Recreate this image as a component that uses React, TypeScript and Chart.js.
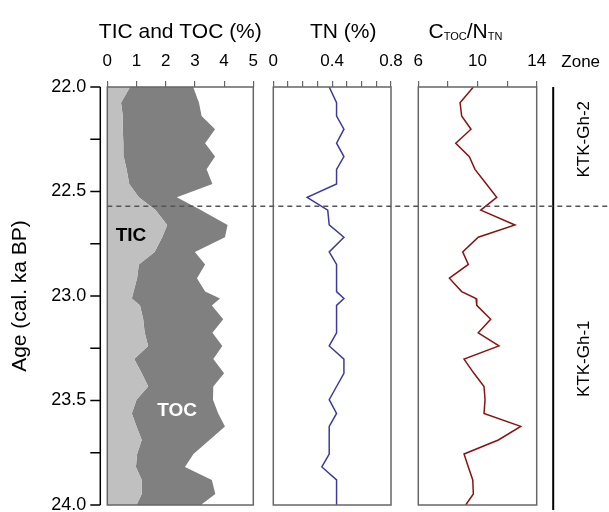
import React, { useEffect, useRef } from 'react';
import { Chart, registerables } from 'chart.js';

Chart.register(...registerables);

const FONT = "'Liberation Sans', Arial, Helvetica, sans-serif";

// ---- data (ages in cal. ka BP) ----
const ages = [22.0, 22.075, 22.139, 22.202, 22.269, 22.333, 22.394, 22.464, 22.528, 22.589, 22.66, 22.719, 22.789, 22.849, 22.915, 22.979, 23.012, 23.045, 23.111, 23.176, 23.239, 23.302, 23.37, 23.433, 23.496, 23.562, 23.624, 23.689, 23.756, 23.818, 23.88, 23.947, 24.0];
const ticValues = [0.78, 0.47, 0.53, 0.53, 0.55, 0.56, 0.66, 0.75, 1.08, 1.65, 2.05, 1.88, 1.62, 1.08, 1.02, 0.9, 0.84, 1.12, 1.23, 1.28, 1.4, 0.92, 1.18, 1.4, 1.0, 0.84, 1.0, 1.18, 1.02, 0.98, 1.18, 1.18, 1.0];
const tocValues = [2.16, 2.67, 2.7, 3.16, 2.8, 3.13, 2.74, 2.85, 1.3, 1.55, 2.07, 2.15, 1.38, 2.27, 2.05, 2.45, 3.02, 2.46, 2.74, 2.32, 2.54, 2.71, 2.82, 2.23, 2.62, 2.96, 3.03, 2.32, 1.93, 1.68, 2.4, 2.52, 2.2];
const tnValues = [0.38, 0.43, 0.43, 0.48, 0.43, 0.48, 0.43, 0.43, 0.23, 0.37, 0.38, 0.48, 0.38, 0.43, 0.43, 0.43, 0.48, 0.43, 0.43, 0.43, 0.38, 0.48, 0.48, 0.43, 0.38, 0.43, 0.38, 0.38, 0.38, 0.33, 0.43, 0.43, 0.43];
const cnValues = [9.72, 8.82, 8.93, 9.56, 8.53, 9.45, 9.83, 10.6, 11.3, 10.22, 12.53, 10.05, 9.0, 9.38, 8.1, 8.93, 9.9, 9.95, 10.89, 10.05, 11.45, 9.09, 9.76, 10.44, 10.51, 10.44, 12.92, 11.41, 9.09, 9.38, 9.68, 9.72, 9.2];

const zoneBoundaryAge = 22.57;
const zoneNames = ['KTK-Gh-2', 'KTK-Gh-1'];
const zoneLabelAges = [22.25, 23.3];
const ticLabelPos = { x: 0.81, y: 22.713 };
const tocLabelPos = { x: 2.39, y: 23.55 };

const ageMin = 22;
const ageMax = 24;

const W = 609;
const H = 520;
const TITLE_SIZE = 21;
const TICK_SIZE = 17;
const YTICK_SIZE = 18;

const totalValues = ticValues.map((v, i) => v + tocValues[i]);

const pts = (vals: number[]) => vals.map((v, i) => ({ x: v, y: ages[i] }));

function yScale(show: boolean) {
  return {
    type: 'linear',
    min: ageMin,
    max: ageMax,
    reverse: true,
    display: show,
    ticks: {
      stepSize: 0.25,
      autoSkip: false,
      color: '#000',
      font: { family: FONT, size: YTICK_SIZE },
      padding: 0,
      callback: (v: any) => {
        const n = Number(v);
        return Math.abs(n * 2 - Math.round(n * 2)) < 1e-6 ? n.toFixed(1) : '';
      },
    },
    grid: { display: false, drawTicks: true, tickLength: 21 },
    border: { display: false },
    title: {
      display: show,
      text: 'Age (cal. ka BP)',
      color: '#000',
      font: { family: FONT, size: TITLE_SIZE },
      padding: { top: 8, bottom: 0 },
    },
    afterFit: (s: any) => {
      if (show) s.width = 107.3;
    },
  };
}

function xScale(min: number, max: number, step: number, cb: (v: number) => string) {
  return {
    type: 'linear',
    position: 'top',
    min,
    max,
    ticks: {
      stepSize: step,
      autoSkip: false,
      maxRotation: 0,
      color: '#000',
      font: { family: FONT, size: TICK_SIZE },
      padding: 9,
      callback: (v: any) => cb(Number(v)),
    },
    grid: { display: true, drawOnChartArea: false, drawTicks: true, tickLength: 6, color: '#666', lineWidth: 1.2 },
    border: { display: false },
    afterFit: (s: any) => {
      s.height = 87;
    },
  };
}

function boxPlugin(drawExtra: (chart: any) => void) {
  return {
    id: 'panelDeco',
    afterDatasetsDraw(chart: any) {
      const { ctx, chartArea: a } = chart;
      ctx.save();
      ctx.strokeStyle = '#666';
      ctx.lineWidth = 1.5;
      ctx.strokeRect(a.left, a.top, a.right - a.left, a.bottom - a.top);
      ctx.restore();
    },
    afterDraw(chart: any) {
      const { ctx } = chart;
      ctx.save();
      drawExtra(chart);
      ctx.restore();
    },
  };
}

function drawTitle(ctx: CanvasRenderingContext2D, text: string, cx: number) {
  ctx.font = `${TITLE_SIZE}px ${FONT}`;
  ctx.fillStyle = '#000';
  ctx.textAlign = 'center';
  ctx.textBaseline = 'alphabetic';
  ctx.fillText(text, cx, 38);
}

function drawCNTitle(ctx: CanvasRenderingContext2D, cx: number) {
  const big = `${TITLE_SIZE}px ${FONT}`;
  const small = `11px ${FONT}`;
  const parts = [
    { t: 'C', f: big, dy: 0 },
    { t: 'TOC', f: small, dy: 2 },
    { t: '/N', f: big, dy: 0 },
    { t: 'TN', f: small, dy: 2 },
  ];
  let total = 0;
  const widths = parts.map((p) => {
    ctx.font = p.f;
    const w = ctx.measureText(p.t).width;
    total += w;
    return w;
  });
  let x = cx - total / 2;
  ctx.fillStyle = '#000';
  ctx.textAlign = 'left';
  ctx.textBaseline = 'alphabetic';
  parts.forEach((p, i) => {
    ctx.font = p.f;
    ctx.fillText(p.t, x, 38 + p.dy);
    x += widths[i];
  });
}

const baseOptions = (padding: any) => ({
  indexAxis: 'y',
  animation: false,
  responsive: false,
  devicePixelRatio: 1,
  layout: { padding },
  plugins: { legend: { display: false }, tooltip: { enabled: false } },
});

export default function App() {
  const r1 = useRef<HTMLCanvasElement>(null);
  const r2 = useRef<HTMLCanvasElement>(null);
  const r3 = useRef<HTMLCanvasElement>(null);

  useEffect(() => {
    const c1 = new Chart(r1.current as HTMLCanvasElement, {
      type: 'line',
      data: {
        datasets: [
          {
            label: 'TIC',
            data: pts(ticValues),
            borderWidth: 0,
            borderColor: 'rgba(0,0,0,0)',
            backgroundColor: '#c0c0c0',
            pointRadius: 0,
            fill: 'origin',
            tension: 0,
          },
          {
            label: 'TOC',
            data: pts(totalValues),
            borderWidth: 0,
            borderColor: 'rgba(0,0,0,0)',
            backgroundColor: '#808080',
            pointRadius: 0,
            fill: '-1',
            tension: 0,
          },
        ],
      },
      options: {
        ...baseOptions({ left: 0, right: W - 253.3, top: 0, bottom: H - 505 }),
        scales: {
          x: xScale(0, 5, 1, (v) => String(Math.round(v))),
          y: yScale(true),
        } as any,
      },
      plugins: [
        boxPlugin((chart: any) => {
          const ctx = chart.ctx as CanvasRenderingContext2D;
          const a = chart.chartArea;
          const ys = chart.scales.y;
          const xs = chart.scales.x;
          const xl = a.left - 7;
          ctx.strokeStyle = '#000';
          ctx.lineWidth = 1.5;
          ctx.beginPath();
          ctx.moveTo(xl, ys.getPixelForValue(ageMin));
          ctx.lineTo(xl, ys.getPixelForValue(ageMax));
          ys.ticks.forEach((t: any) => {
            const p = ys.getPixelForValue(t.value);
            ctx.moveTo(xl - 10, p);
            ctx.lineTo(xl, p);
          });
          ctx.stroke();
          drawTitle(ctx, 'TIC and TOC (%)', (a.left + a.right) / 2);
          ctx.font = `bold 19px ${FONT}`;
          ctx.textAlign = 'center';
          ctx.textBaseline = 'middle';
          ctx.fillStyle = '#000';
          ctx.fillText('TIC', xs.getPixelForValue(ticLabelPos.x), ys.getPixelForValue(ticLabelPos.y));
          ctx.fillStyle = '#fff';
          ctx.fillText('TOC', xs.getPixelForValue(tocLabelPos.x), ys.getPixelForValue(tocLabelPos.y));
        }),
      ],
    } as any);

    const c2 = new Chart(r2.current as HTMLCanvasElement, {
      type: 'line',
      data: {
        datasets: [
          {
            label: 'TN',
            data: pts(tnValues),
            borderWidth: 1.5,
            borderColor: '#3a3aa0',
            pointRadius: 0,
            fill: false,
            tension: 0,
          },
        ],
      },
      options: {
        ...baseOptions({ left: 273.3, right: W - 391, top: 0, bottom: H - 505 }),
        scales: {
          x: xScale(0, 0.8, 0.1, (v) => {
            const k = Math.round(v * 10);
            if (k % 4 !== 0) return '';
            return k === 0 ? '0' : (k / 10).toFixed(1);
          }),
          y: yScale(false),
        } as any,
      },
      plugins: [
        boxPlugin((chart: any) => {
          const a = chart.chartArea;
          drawTitle(chart.ctx, 'TN (%)', (a.left + a.right) / 2 + 11);
        }),
      ],
    } as any);

    const c3 = new Chart(r3.current as HTMLCanvasElement, {
      type: 'line',
      data: {
        datasets: [
          {
            label: 'C/N',
            data: pts(cnValues),
            borderWidth: 1.5,
            borderColor: '#8b1212',
            pointRadius: 0,
            fill: false,
            tension: 0,
          },
        ],
      },
      options: {
        ...baseOptions({ left: 418.3, right: W - 536.7, top: 0, bottom: H - 505 }),
        scales: {
          x: xScale(6, 14, 2, (v) => {
            const k = Math.round(v);
            return (k - 6) % 4 === 0 ? String(k) : '';
          }),
          y: yScale(false),
        } as any,
      },
      plugins: [
        boxPlugin((chart: any) => {
          const ctx = chart.ctx as CanvasRenderingContext2D;
          const a = chart.chartArea;
          const ys = chart.scales.y;
          drawCNTitle(ctx, (a.left + a.right) / 2 - 12);
          // zone column
          const zx = a.right + 16.5;
          ctx.strokeStyle = '#000';
          ctx.lineWidth = 2;
          ctx.beginPath();
          ctx.moveTo(zx, a.top);
          ctx.lineTo(zx, 510);
          ctx.stroke();
          ctx.fillStyle = '#000';
          ctx.font = `${TICK_SIZE}px ${FONT}`;
          ctx.textAlign = 'center';
          ctx.textBaseline = 'middle';
          ctx.fillText('Zone', a.right + 44, 62);
          zoneNames.forEach((name, i) => {
            ctx.save();
            ctx.translate(a.right + 48, ys.getPixelForValue(zoneLabelAges[i]));
            ctx.rotate(-Math.PI / 2);
            ctx.fillText(name, 0, 0);
            ctx.restore();
          });
          // zone boundary, dashed across all panels
          const y = ys.getPixelForValue(zoneBoundaryAge);
          ctx.setLineDash([5, 4]);
          ctx.strokeStyle = '#555';
          ctx.lineWidth = 1.5;
          ctx.beginPath();
          ctx.moveTo(107.3, y);
          ctx.lineTo(W, y);
          ctx.stroke();
        }),
      ],
    } as any);

    return () => {
      c1.destroy();
      c2.destroy();
      c3.destroy();
    };
  }, []);

  const cstyle: React.CSSProperties = { position: 'absolute', left: 0, top: 0, width: W, height: H };
  return (
    <div style={{ position: 'absolute', left: 0, top: 0, width: W, height: 512, background: '#fff', overflow: 'hidden' }}>
      <canvas ref={r1} width={W} height={H} style={cstyle} />
      <canvas ref={r2} width={W} height={H} style={cstyle} />
      <canvas ref={r3} width={W} height={H} style={cstyle} />
    </div>
  );
}
